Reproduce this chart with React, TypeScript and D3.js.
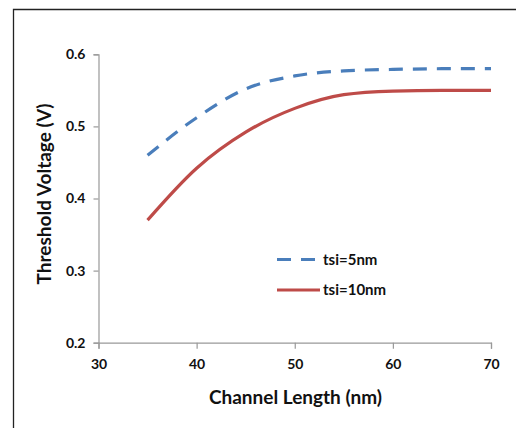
import React, { useEffect, useRef } from 'react';
import * as d3 from 'd3';

const lengths = [35, 40, 45, 50, 55, 60, 65, 70];
const vt5 = [0.46, 0.512, 0.552, 0.57, 0.577, 0.579, 0.58, 0.58];
const vt10 = [0.37, 0.442, 0.492, 0.525, 0.544, 0.549, 0.55, 0.55];
const xTicks = [30, 40, 50, 60, 70];
const yTicks = [0.2, 0.3, 0.4, 0.5, 0.6];
const seriesNames = ['tsi=5nm', 'tsi=10nm'];

const App = () => {
  const ref = useRef<SVGSVGElement>(null);

  useEffect(() => {
    const svg = d3.select(ref.current);
    svg.selectAll('*').remove();
    const font = 'Lato, "Open Sans", sans-serif';

    // cadre extérieur (seulement haut et gauche visibles)
    svg.append('path')
      .attr('d', 'M13.5,428 L13.5,9.5 L516,9.5')
      .attr('fill', 'none')
      .attr('stroke', '#222')
      .attr('stroke-width', 1.3);

    const x = d3.scaleLinear().domain([30, 70]).range([98.5, 491]);
    const y = d3.scaleLinear().domain([0.2, 0.6]).range([342.7, 54.3]);

    const xAxis = svg.append('g')
      .attr('transform', `translate(0,${y(0.2)})`)
      .call(d3.axisBottom(x).tickValues(xTicks).tickSize(6).tickPadding(10).tickFormat(d3.format('d')));
    const yAxis = svg.append('g')
      .attr('transform', `translate(${x(30)},0)`)
      .call(d3.axisLeft(y).tickValues(yTicks).tickSize(5).tickPadding(8).tickFormat(d3.format('.1f')));

    [xAxis, yAxis].forEach(a => {
      a.select('.domain').attr('stroke', '#999').attr('stroke-width', 1.2);
      a.selectAll('.tick line').attr('stroke', '#999').attr('stroke-width', 1.2);
      a.selectAll('.tick text')
        .attr('fill', '#111')
        .style('font-family', font)
        .style('font-weight', 'bold')
        .style('font-size', '14px');
    });

    const line = d3.line<number>()
      .x((_, i) => x(lengths[i]))
      .y(d => y(d))
      .curve(d3.curveMonotoneX);

    svg.append('path')
      .datum(vt5)
      .attr('d', line)
      .attr('fill', 'none')
      .attr('stroke', '#4A7EBB')
      .attr('stroke-width', 3.2)
      .attr('stroke-dasharray', '14,10');

    svg.append('path')
      .datum(vt10)
      .attr('d', line)
      .attr('fill', 'none')
      .attr('stroke', '#BE4B48')
      .attr('stroke-width', 3.2);

    // légende
    const legend = [
      { name: seriesNames[0], color: '#4A7EBB', dash: '14,10', y: 259.5 },
      { name: seriesNames[1], color: '#BE4B48', dash: null, y: 290 },
    ];
    legend.forEach(l => {
      svg.append('line')
        .attr('x1', 277).attr('x2', 320)
        .attr('y1', l.y).attr('y2', l.y)
        .attr('stroke', l.color)
        .attr('stroke-width', 3.2)
        .attr('stroke-dasharray', l.dash);
      svg.append('text')
        .attr('x', 323).attr('y', l.y)
        .attr('dy', '0.35em')
        .attr('fill', '#111')
        .style('font-family', font)
        .style('font-weight', 'bold')
        .style('font-size', '15px')
        .text(l.name);
    });

    svg.append('text')
      .attr('x', 295.5).attr('y', 397)
      .attr('dy', '0.35em')
      .attr('text-anchor', 'middle')
      .attr('fill', '#111')
      .style('font-family', font)
      .style('font-weight', 'bold')
      .style('font-size', '19px')
      .text('Channel Length (nm)');

    svg.append('text')
      .attr('transform', 'translate(44,194) rotate(-90)')
      .attr('dy', '0.35em')
      .attr('text-anchor', 'middle')
      .attr('fill', '#111')
      .style('font-family', font)
      .style('font-weight', 'bold')
      .style('font-size', '19px')
      .text('Threshold Voltage (V)');
  }, []);

  return (
    <svg ref={ref} width={516} height={428}
      style={{ position: 'absolute', left: 0, top: 0, background: '#fff' }} />
  );
};

export default App;
